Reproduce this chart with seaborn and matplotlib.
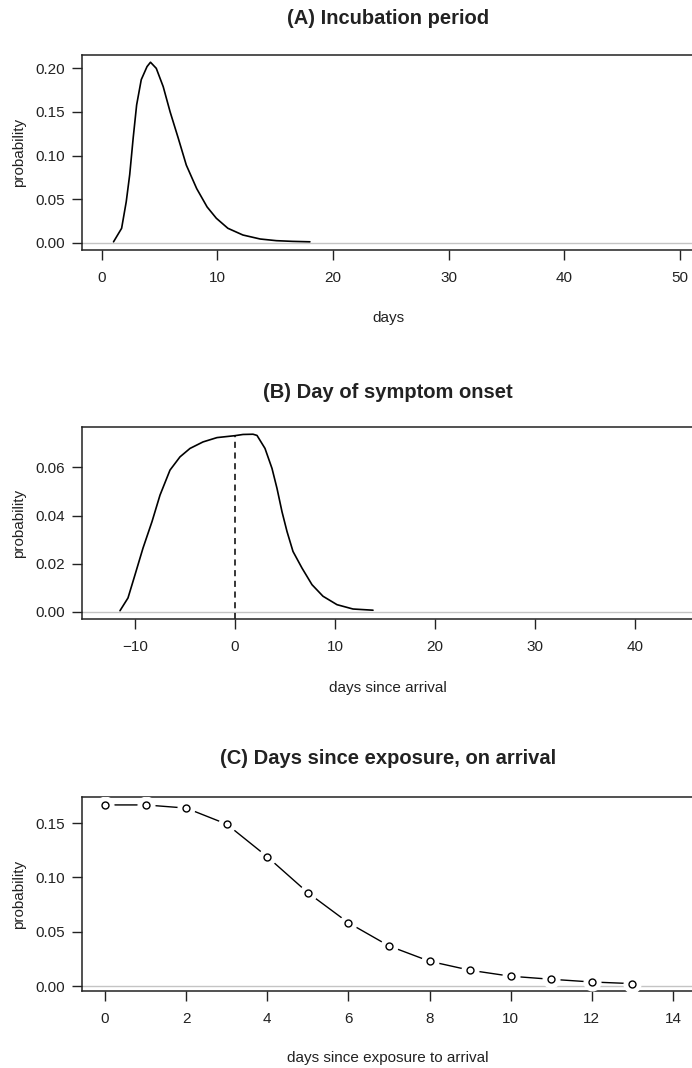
import matplotlib
matplotlib.use("Agg")
import matplotlib.pyplot as plt
from matplotlib.ticker import FormatStrFormatter
import seaborn as sns
import pandas as pd

# ---------------- data ----------------
incub_days = [1.0, 1.7, 2.1, 2.4, 2.7, 3.0, 3.4, 3.9, 4.2, 4.7, 5.3, 5.9, 6.6,
              7.3, 8.2, 9.1, 9.9, 10.9, 12.2, 13.7, 15.1, 16.5, 18.0]
incub_prob = [0.001, 0.0165, 0.047, 0.078, 0.120, 0.158, 0.187, 0.202, 0.207,
              0.200, 0.179, 0.150, 0.120, 0.089, 0.062, 0.041, 0.028, 0.0165,
              0.0088, 0.0042, 0.0023, 0.0015, 0.001]

onset_days = [-11.5, -10.7, -10.0, -9.2, -8.3, -7.5, -6.5, -5.5, -4.5, -3.2,
              -1.8, 0.0, 0.8, 1.8, 2.2, 3.0, 3.7, 4.2, 4.7, 5.2, 5.8, 6.7,
              7.7, 8.8, 10.2, 11.8, 13.8]
onset_prob = [0.0005, 0.0058, 0.0154, 0.0265, 0.0375, 0.0485, 0.0589, 0.0644,
              0.0679, 0.0706, 0.0724, 0.0732, 0.0737, 0.0738, 0.0733, 0.0679,
              0.0596, 0.0513, 0.0416, 0.0334, 0.0251, 0.0182, 0.0113, 0.0065,
              0.0030, 0.0012, 0.0007]
arrival_day = 0

exposure_days = list(range(14))
exposure_prob = [0.1667, 0.1667, 0.1638, 0.149, 0.119, 0.0859, 0.0582, 0.0369,
                 0.0228, 0.0145, 0.0090, 0.0062, 0.0037, 0.0022]

titles = ["(A) Incubation period", "(B) Day of symptom onset",
          "(C) Days since exposure, on arrival"]
xlabels = ["days", "days since arrival", "days since exposure to arrival"]
ylabel = "probability"

xticksA = [0, 10, 20, 30, 40, 50]
yticksA = [0.00, 0.05, 0.10, 0.15, 0.20]
xticksB = [-10, 0, 10, 20, 30, 40]
yticksB = [0.00, 0.02, 0.04, 0.06]
xticksC = [0, 2, 4, 6, 8, 10, 12, 14]
yticksC = [0.00, 0.05, 0.10, 0.15]

dfA = pd.DataFrame({"day": incub_days, "prob": incub_prob})
dfB = pd.DataFrame({"day": onset_days, "prob": onset_prob})
dfC = pd.DataFrame({"day": exposure_days, "prob": exposure_prob})

# ---------------- style ----------------
sns.set_style("ticks")
plt.rcParams['font.family'] = ['Liberation Sans', 'DejaVu Sans']

W, H = 692, 1068
fig = plt.figure(figsize=(W / 100, H / 100), dpi=100)
fig.patch.set_facecolor("white")

INK = "#222222"


def box(left, top, bottom, right=W):
    return [left / W, 1 - bottom / H, (right - left) / W, (bottom - top) / H]


def style(ax, xticks, yticks, xlim, ylim):
    ax.set_xlim(*xlim)
    ax.set_ylim(*ylim)
    ax.set_xticks(xticks)
    ax.set_yticks(yticks)
    ax.yaxis.set_major_formatter(FormatStrFormatter("%.2f"))
    for s in ["left", "top", "bottom"]:
        ax.spines[s].set_color(INK)
        ax.spines[s].set_linewidth(1.1)
    ax.spines["right"].set_visible(False)
    ax.tick_params(axis="both", length=7, width=1.0, color=INK,
                   labelcolor=INK, labelsize=11)
    ax.tick_params(axis="x", pad=8)
    ax.tick_params(axis="y", pad=5)
    ax.set_xlabel("")
    ax.set_ylabel("")
    ax.axhline(0, color="#c4c4c4", lw=1.0, zorder=0)


geo = [(82, 55, 250), (82, 427, 619), (82, 797, 991)]

# Panel A
axA = fig.add_axes(box(*geo[0]))
sns.lineplot(data=dfA, x="day", y="prob", ax=axA, color="black", lw=1.2)
style(axA, xticksA, yticksA, (-1.73, 51.08), (-0.0084, 0.2153))

# Panel B
axB = fig.add_axes(box(*geo[1]))
sns.lineplot(data=dfB, x="day", y="prob", ax=axB, color="black", lw=1.2)
style(axB, xticksB, yticksB, (-15.3, 45.7), (-0.00295, 0.0768))
top_at_arrival = dfB.loc[dfB["day"] == arrival_day, "prob"].iloc[0]
axB.vlines(arrival_day, axB.get_ylim()[0], top_at_arrival, colors="black",
           linestyles=(0, (4, 3)), lw=1.1)

# Panel C
axC = fig.add_axes(box(*geo[2]))
sns.lineplot(data=dfC, x="day", y="prob", ax=axC, color="black", lw=1.0)
axC.plot(dfC["day"], dfC["prob"], ls="none", marker="o", ms=12,
         mfc="white", mec="white", zorder=3)
axC.plot(dfC["day"], dfC["prob"], ls="none", marker="o", ms=5,
         mfc="white", mec="black", mew=1.0, zorder=4)
style(axC, xticksC, yticksC, (-0.567, 14.47), (-0.0046, 0.174))

# Texts
title_y = [19, 392, 758]
xlab_y = [318, 688, 1058]
for (l, t, b), ttl, xl, ty, xy in zip(geo, titles, xlabels, title_y, xlab_y):
    fig.text(388 / W, 1 - ty / H, ttl, ha="center", va="center",
             fontsize=14.5, fontweight="bold", color=INK)
    fig.text(388 / W, 1 - xy / H, xl, ha="center", va="center",
             fontsize=11, color=INK)
    fig.text(19 / W, 1 - ((t + b) / 2) / H, ylabel, ha="center", va="center",
             rotation=90, fontsize=11, color=INK)

fig.savefig("out.png", dpi=100, facecolor="white")
